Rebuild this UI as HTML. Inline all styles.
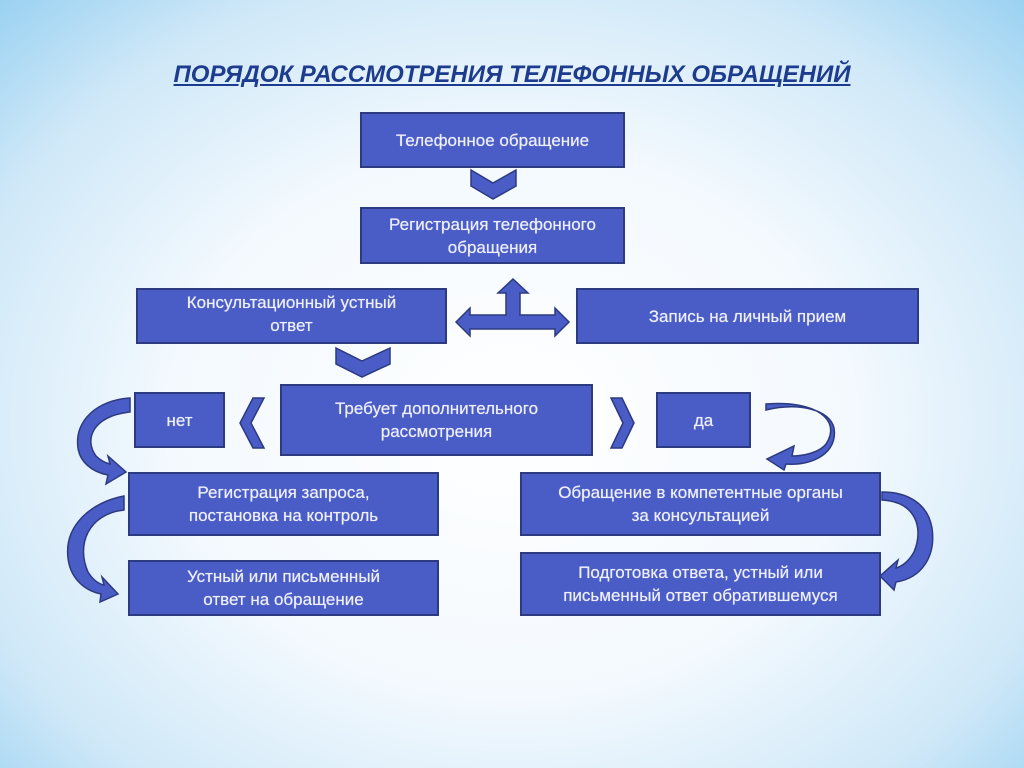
<!DOCTYPE html>
<html><head><meta charset="utf-8"><style>
body{margin:0;width:1024px;height:768px;overflow:hidden;font-family:"Liberation Sans","DejaVu Sans",sans-serif;
background:radial-gradient(ellipse 75% 80% at 50% 55%,#ffffff 0%,#f3f9fe 45%,#cfe8f8 75%,#8fcdf0 100%);position:relative}
.b{position:absolute;background:#4a5cc6;border:2px solid #2c3a80;box-sizing:border-box;color:#eef0ff;font-size:17px;line-height:23px;text-align:center;display:flex;align-items:center;justify-content:center;padding:0 8px;text-shadow:0 0 0.6px #eef0ff}
h1{position:absolute;top:61px;left:0;width:1024px;text-align:center;margin:0;font-size:24px;font-style:italic;font-weight:bold;color:#1e3c8e;text-decoration:underline}
svg{position:absolute;left:0;top:0}
</style></head><body>
<h1>ПОРЯДОК РАССМОТРЕНИЯ ТЕЛЕФОННЫХ ОБРАЩЕНИЙ</h1>
<div class="b" style="left:360px;top:112px;width:265px;height:56px">Телефонное обращение</div>
<div class="b" style="left:360px;top:207px;width:265px;height:57px">Регистрация телефонного<br>обращения</div>
<div class="b" style="left:136px;top:288px;width:311px;height:56px;padding-bottom:4px">Консультационный устный<br>ответ</div>
<div class="b" style="left:576px;top:288px;width:343px;height:56px">Запись на личный прием</div>
<div class="b" style="left:280px;top:384px;width:313px;height:72px">Требует дополнительного<br>рассмотрения</div>
<div class="b" style="left:134px;top:392px;width:91px;height:56px">нет</div>
<div class="b" style="left:656px;top:392px;width:95px;height:56px">да</div>
<div class="b" style="left:128px;top:472px;width:311px;height:64px">Регистрация запроса,<br>постановка на контроль</div>
<div class="b" style="left:128px;top:560px;width:311px;height:56px">Устный или письменный<br>ответ на обращение</div>
<div class="b" style="left:520px;top:472px;width:361px;height:64px">Обращение в компетентные органы<br>за консультацией</div>
<div class="b" style="left:520px;top:552px;width:361px;height:64px">Подготовка ответа, устный или<br>письменный ответ обратившемуся</div>
<svg width="1024" height="768" fill="#4a5cc6" stroke="#2c3a80" stroke-width="1.5">
<polygon points="471,170 493,183 516,170 516,186 493,199 471,186"/>
<polygon points="336,348 362,361 390,348 390,364 362,377 336,364"/>
<polygon points="264,398 251,423 264,448 253,448 240,423 253,398"/>
<polygon points="611,398 622,398 634,423 622,448 611,448 623,423"/>
<polygon points="456,322 470,308 470,315 506,315 506,293 498,293 513,279 528,293 520,293 520,315 555,315 555,308 569,322 555,336 555,329 470,329 470,336"/>
<path d="M130,412 C92,416 84,440 96,456 C101,461 106,463 110,464 L108,456 L126,472 L106,484 L108,475 C92,472 80,462 78,448 C74,420 98,400 130,398 Z"/>
<path d="M124,510 C88,514 76,545 88,572 C93,580 99,584 104,585 L102,577 L118,594 L100,602 L101,594 C82,590 70,576 68,558 C64,525 92,502 124,496 Z"/>
<path d="M766,404 C816,400 842,420 826,444 C818,454 800,456 792,456 L794,446 L767,459 L784,470 L786,464 C814,466 838,452 834,428 C830,410 800,402 766,410 Z"/>
<path d="M882,500 C916,502 924,528 914,552 C908,563 900,567 896,568 L898,560 L880,576 L894,590 L896,582 C922,578 936,556 932,528 C928,504 908,492 882,492 Z"/>
</svg>
</body></html>
